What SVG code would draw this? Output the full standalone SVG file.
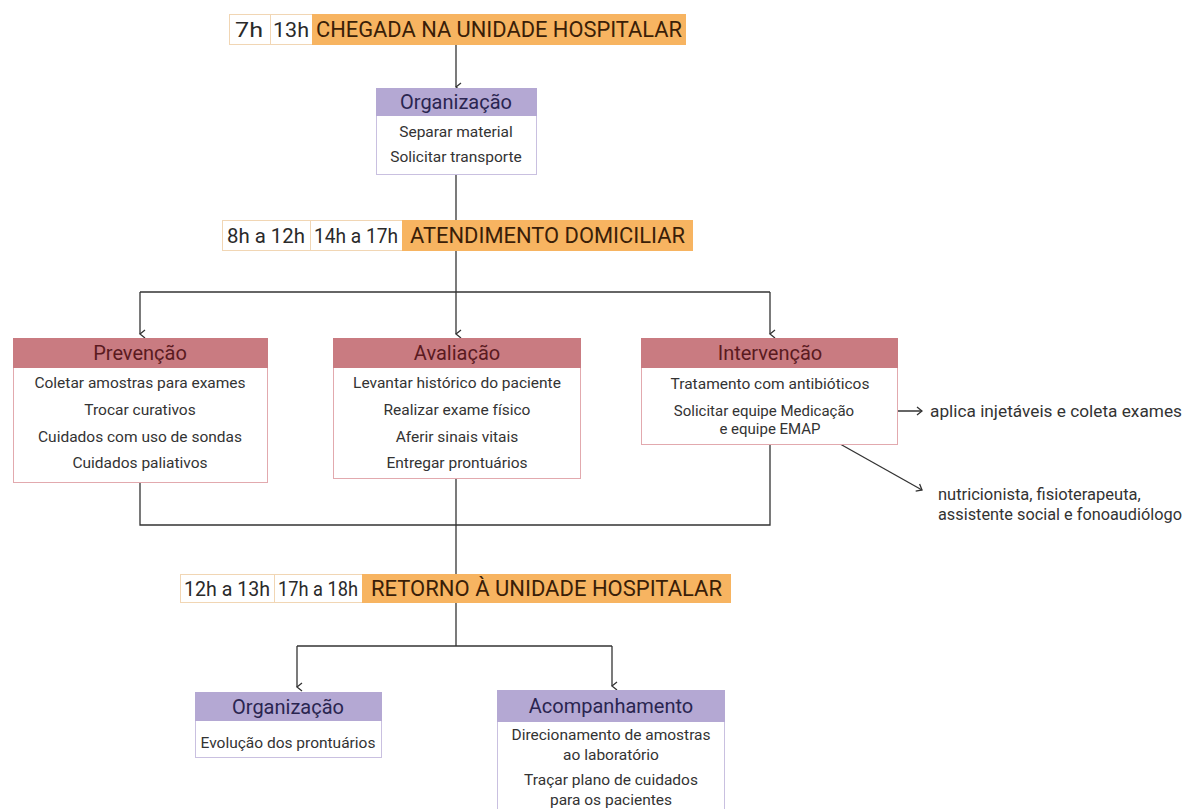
<svg xmlns="http://www.w3.org/2000/svg" width="1184" height="809" viewBox="0 0 1184 809">
  <defs>
    <marker id="arrow" viewBox="0 0 10 10" refX="5" refY="9" markerWidth="10" markerHeight="10" markerUnits="userSpaceOnUse" orient="auto-start-reverse">
      <path d="M1,4 L5,9 L9,4" fill="none" stroke="#333" stroke-width="1.3"/>
    </marker>
    <marker id="arrowR" viewBox="0 0 10 10" refX="9" refY="5" markerWidth="10" markerHeight="10" markerUnits="userSpaceOnUse" orient="auto">
      <path d="M4,1 L9,5 L4,9" fill="none" stroke="#333" stroke-width="1.3"/>
    </marker>
  </defs>
  <style>
    text { font-family: Roboto, "Liberation Sans", sans-serif; }
    .cell { fill: #ffffff; stroke: #f1d6b4; stroke-width: 1; }
    .band { fill: #f7b461; }
    .time { font-size: 21px; fill: #2a2a2a; }
    .stage { font-size: 22px; fill: #3a1e08; }
    .box { fill: #ffffff; stroke-width: 1; }
    .boxP { stroke: #c9c0e0; }
    .boxR { stroke: #e2a9ae; }
    .hdrP { fill: #b4a8d3; }
    .hdrR { fill: #c97b81; }
    .ttlP { font-size: 20px; fill: #2a2550; text-anchor: middle; }
    .ttlR { font-size: 20px; fill: #5a1a1f; text-anchor: middle; }
    .item { font-size: 15.5px; fill: #333333; text-anchor: middle; }
    .tight { font-size: 15px; }
    .note { font-size: 16.5px; fill: #333333; }
    .link { fill: none; stroke: #333333; stroke-width: 1.3; }
  </style>
  <rect width="1184" height="809" fill="#ffffff"/>

  <!-- connectors -->
  <g id="connectors">
    <path class="link" d="M456,44 V87" marker-end="url(#arrow)"/>
    <path class="link" d="M456,174 V220"/>
    <path class="link" d="M456,251 V292"/>
    <path class="link" d="M140,292 H770"/>
    <path class="link" d="M140,292 V334" marker-end="url(#arrow)"/>
    <path class="link" d="M456,292 V334" marker-end="url(#arrow)"/>
    <path class="link" d="M770,292 V334" marker-end="url(#arrow)"/>
    <path class="link" d="M140,482 V525 H770 V444"/>
    <path class="link" d="M456,479 V574"/>
    <path class="link" d="M456,602 V646"/>
    <path class="link" d="M297,646 H612"/>
    <path class="link" d="M297,646 V687" marker-end="url(#arrow)"/>
    <path class="link" d="M612,646 V686" marker-end="url(#arrow)"/>
    <path class="link" d="M866,411 H922" marker-end="url(#arrowR)"/>
    <path class="link" d="M833,440 L922,490" marker-end="url(#arrowR)"/>
  </g>

  <!-- time band: arrival -->
  <g id="arrival">
    <rect class="cell" x="229.5" y="14.5" width="41" height="30"/>
    <rect class="cell" x="270.5" y="14.5" width="42" height="30"/>
    <rect class="band" x="312" y="14" width="374" height="31"/>
    <text class="time" x="235" y="37" textLength="28" lengthAdjust="spacingAndGlyphs">7h</text>
    <text class="time" x="273" y="37" textLength="36" lengthAdjust="spacingAndGlyphs">13h</text>
    <text class="stage" x="316" y="37" textLength="366" lengthAdjust="spacingAndGlyphs">CHEGADA NA UNIDADE HOSPITALAR</text>
  </g>

  <!-- organization before leaving -->
  <g id="organizacao-saida">
    <rect class="box boxP" x="376.5" y="88.5" width="160" height="86"/>
    <rect class="hdrP" x="376" y="88" width="161" height="28"/>
    <text class="ttlP" x="456" y="109">Organização</text>
    <text class="item" x="456" y="137">Separar material</text>
    <text class="item" x="456" y="162">Solicitar transporte</text>
  </g>

  <!-- time band: home care -->
  <g id="atendimento">
    <rect class="cell" x="222.5" y="220.5" width="88" height="30"/>
    <rect class="cell" x="310.5" y="220.5" width="92" height="30"/>
    <rect class="band" x="402" y="220" width="291" height="31"/>
    <text class="time" x="227" y="243" textLength="78" lengthAdjust="spacingAndGlyphs">8h a 12h</text>
    <text class="time" x="314" y="243" textLength="84" lengthAdjust="spacingAndGlyphs">14h a 17h</text>
    <text class="stage" x="410" y="243" textLength="275" lengthAdjust="spacingAndGlyphs">ATENDIMENTO DOMICILIAR</text>
  </g>

  <!-- prevention -->
  <g id="prevencao">
    <rect class="box boxR" x="13.5" y="338.5" width="254" height="144"/>
    <rect class="hdrR" x="13" y="338" width="255" height="30"/>
    <text class="ttlR" x="140" y="360">Prevenção</text>
    <text class="item" x="140" y="388">Coletar amostras para exames</text>
    <text class="item" x="140" y="415">Trocar curativos</text>
    <text class="item" x="140" y="442">Cuidados com uso de sondas</text>
    <text class="item" x="140" y="468">Cuidados paliativos</text>
  </g>

  <!-- assessment -->
  <g id="avaliacao">
    <rect class="box boxR" x="333.5" y="338.5" width="247" height="140"/>
    <rect class="hdrR" x="333" y="338" width="248" height="30"/>
    <text class="ttlR" x="457" y="360">Avaliação</text>
    <text class="item" x="457" y="388">Levantar histórico do paciente</text>
    <text class="item" x="457" y="415">Realizar exame físico</text>
    <text class="item" x="457" y="442">Aferir sinais vitais</text>
    <text class="item" x="457" y="468">Entregar prontuários</text>
  </g>

  <!-- intervention -->
  <g id="intervencao">
    <rect class="box boxR" x="641.5" y="338.5" width="256" height="106"/>
    <rect class="hdrR" x="641" y="338" width="257" height="30"/>
    <text class="ttlR" x="770" y="360">Intervenção</text>
    <text class="item" x="770" y="389">Tratamento com antibióticos</text>
    <text class="item tight" x="764" y="416">Solicitar equipe Medicação</text>
    <text class="item tight" x="770" y="434">e equipe EMAP</text>
  </g>

  <!-- side notes -->
  <g id="nota-medicacao">
    <text class="note" x="930" y="417" textLength="252" lengthAdjust="spacingAndGlyphs">aplica injetáveis e coleta exames</text>
  </g>
  <g id="nota-emap">
    <text class="note" x="938" y="500">nutricionista, fisioterapeuta,</text>
    <text class="note" x="938" y="520" textLength="244" lengthAdjust="spacingAndGlyphs">assistente social e fonoaudiólogo</text>
  </g>

  <!-- time band: return -->
  <g id="retorno">
    <rect class="cell" x="180.5" y="574.5" width="94" height="28"/>
    <rect class="cell" x="274.5" y="574.5" width="88" height="28"/>
    <rect class="band" x="362" y="574" width="369" height="29"/>
    <text class="time" x="184" y="596" textLength="86" lengthAdjust="spacingAndGlyphs">12h a 13h</text>
    <text class="time" x="278" y="596" textLength="80" lengthAdjust="spacingAndGlyphs">17h a 18h</text>
    <text class="stage" x="371" y="596" textLength="351" lengthAdjust="spacingAndGlyphs">RETORNO À UNIDADE HOSPITALAR</text>
  </g>

  <!-- organization after return -->
  <g id="organizacao-retorno">
    <rect class="box boxP" x="195.5" y="692.5" width="186" height="65"/>
    <rect class="hdrP" x="195" y="692" width="187" height="29"/>
    <text class="ttlP" x="288" y="714">Organização</text>
    <text class="item" x="288" y="748">Evolução dos prontuários</text>
  </g>

  <!-- follow-up -->
  <g id="acompanhamento">
    <rect class="box boxP" x="497.5" y="690.5" width="227" height="125"/>
    <rect class="hdrP" x="497" y="690" width="228" height="32"/>
    <text class="ttlP" x="611" y="713">Acompanhamento</text>
    <text class="item" x="611" y="740">Direcionamento de amostras</text>
    <text class="item" x="611" y="760">ao laboratório</text>
    <text class="item" x="611" y="785">Traçar plano de cuidados</text>
    <text class="item" x="611" y="805">para os pacientes</text>
  </g>
</svg>
